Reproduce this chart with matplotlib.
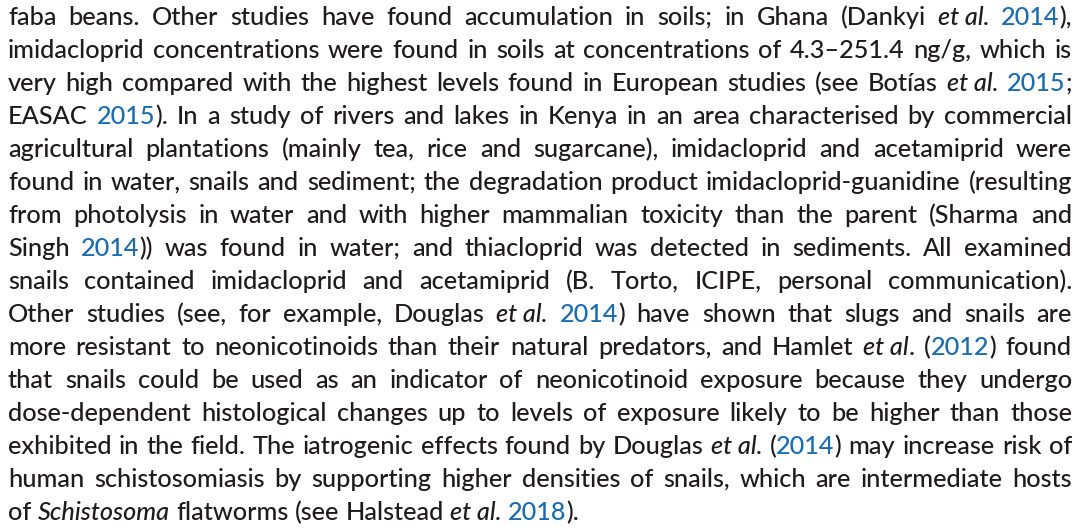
import re
import matplotlib
matplotlib.use("Agg")
import matplotlib.pyplot as plt

# Paragraph lines; *...* = italic, [...] = blue citation year
lines = [
    "faba beans. Other studies have found accumulation in soils; in Ghana (Dankyi *et al.* [2014]),",
    "imidacloprid concentrations were found in soils at concentrations of 4.3–251.4 ng/g, which is",
    "very high compared with the highest levels found in European studies (see Botías *et al.* [2015];",
    "EASAC [2015]). In a study of rivers and lakes in Kenya in an area characterised by commercial",
    "agricultural plantations (mainly tea, rice and sugarcane), imidacloprid and acetamiprid were",
    "found in water, snails and sediment; the degradation product imidacloprid-guanidine (resulting",
    "from photolysis in water and with higher mammalian toxicity than the parent (Sharma and",
    "Singh [2014])) was found in water; and thiacloprid was detected in sediments. All examined",
    "snails contained imidacloprid and acetamiprid (B. Torto, ICIPE, personal communication).",
    "Other studies (see, for example, Douglas *et al.* [2014]) have shown that slugs and snails are",
    "more resistant to neonicotinoids than their natural predators, and Hamlet *et al*. ([2012]) found",
    "that snails could be used as an indicator of neonicotinoid exposure because they undergo",
    "dose-dependent histological changes up to levels of exposure likely to be higher than those",
    "exhibited in the field. The iatrogenic effects found by Douglas *et al.* ([2014]) may increase risk of",
    "human schistosomiasis by supporting higher densities of snails, which are intermediate hosts",
    "of *Schistosoma* flatworms (see Halstead *et al.* [2018]).",
]
justified = [True] * (len(lines) - 1) + [False]

W, H = 1083, 530
LEFT, RIGHT = 8, 1072
BASE0, LEAD = 25, 33
FONT = "Lato"
WEIGHT = "medium"
TEXT_COLOR = "#1e1b1c"
LINK_COLOR = "#1c6db0"

fig = plt.figure(figsize=(W / 100, H / 100), dpi=100)
ax = fig.add_axes([0, 0, 1, 1])
ax.set_xlim(0, W)
ax.set_ylim(H, 0)
ax.axis("off")
renderer = fig.canvas.get_renderer()


def parse_word(word):
    runs = []
    for tok in re.split(r"(\*[^*]*\*|\[[^\]]*\])", word):
        if not tok:
            continue
        if tok.startswith("*"):
            runs.append((tok[1:-1], "italic", TEXT_COLOR))
        elif tok.startswith("["):
            runs.append((tok[1:-1], "normal", LINK_COLOR))
        else:
            runs.append((tok, "normal", TEXT_COLOR))
    return runs


def split_words(line):
    words, cur = [], ""
    inside_star = False
    for ch in line:
        if ch == "*":
            inside_star = not inside_star
        if ch == " " and not inside_star:
            words.append(cur)
            cur = ""
        else:
            cur += ch
    words.append(cur)
    return words


def width(s, style, size):
    t = ax.text(0, 0, s, fontsize=size, family=FONT, style=style, weight=WEIGHT)
    w = t.get_window_extent(renderer).width
    t.remove()
    return w


def word_width(runs, size):
    return sum(width(s, st, size) for s, st, c in runs)


def plain(line):
    return line.replace("*", "").replace("[", "").replace("]", "")


# font size chosen so the last (unjustified) line matches its width in the reference
target_last = 602 - LEFT
size = 20.0
size = size * target_last / width(plain(lines[-1]), "normal", size)
# keep the longest justified line from overflowing
longest = max(width(plain(l), "normal", size) for l in lines[:-1])
if longest > (RIGHT - LEFT) - 10:
    size *= ((RIGHT - LEFT) - 10) / longest

space_w = width("a a", "normal", size) - width("aa", "normal", size)

for i, line in enumerate(lines):
    y = BASE0 + LEAD * i
    words = [parse_word(w) for w in split_words(line)]
    ws = [word_width(r, size) for r in words]
    if justified[i] and len(words) > 1:
        gap = (RIGHT - LEFT - sum(ws)) / (len(words) - 1)
    else:
        gap = space_w
    x = LEFT
    for runs, ww in zip(words, ws):
        xx = x
        for s, st, c in runs:
            ax.text(xx, y, s, fontsize=size, family=FONT, style=st, weight=WEIGHT,
                    color=c, va="baseline", ha="left")
            xx += width(s, st, size)
        x += ww + gap

fig.savefig("out.png", dpi=100)
